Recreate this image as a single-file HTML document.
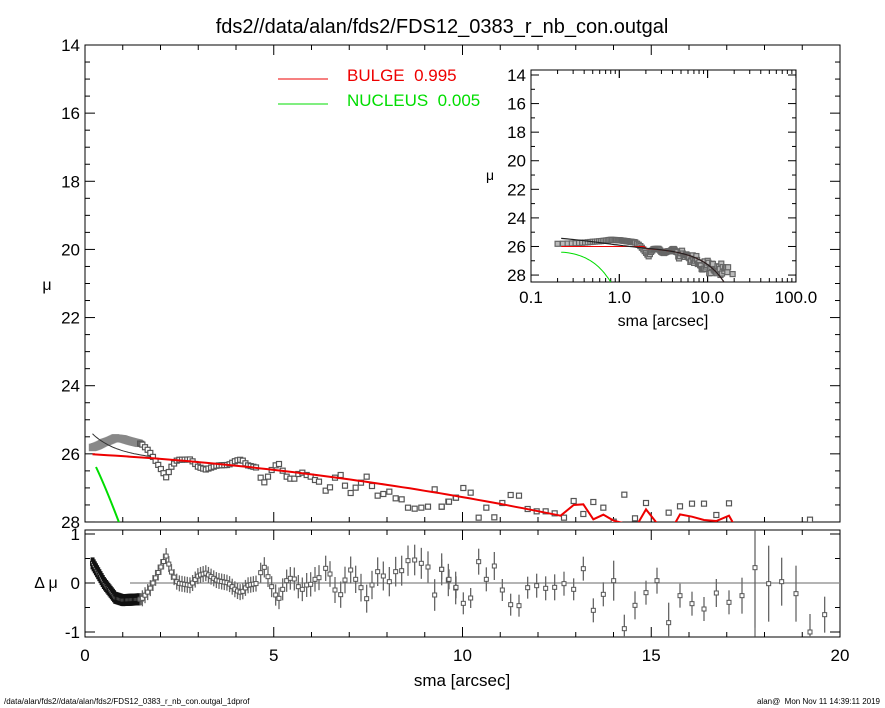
<!DOCTYPE html>
<html><head><meta charset="utf-8"><style>
body{margin:0;background:#fff;width:885px;height:708px;overflow:hidden}
svg{display:block;font-family:"Liberation Sans",sans-serif}
</style></head><body>
<svg id="s" width="885" height="708" xmlns="http://www.w3.org/2000/svg">
<text x="442" y="33" font-size="20" text-anchor="middle">fds2//data/alan/fds2/FDS12_0383_r_nb_con.outgal</text>
<text x="4" y="704" font-size="8">/data/alan/fds2//data/alan/fds2/FDS12_0383_r_nb_con.outgal_1dprof</text>
<text x="880" y="704" font-size="8" text-anchor="end">alan@&#160; Mon Nov 11 14:39:11 2019</text>
<text x="47" y="290" font-size="16" text-anchor="middle">μ</text>
<text x="46" y="588" font-size="16" text-anchor="middle">Δ μ</text>
<text x="462" y="686" font-size="17" text-anchor="middle">sma [arcsec]</text>
<line x1="278" y1="79" x2="328" y2="79" stroke="#e00" stroke-width="1"/>
<text x="347" y="81" font-size="17" fill="#e00">BULGE&#160; 0.995</text>
<line x1="278" y1="104" x2="328" y2="104" stroke="#0d0" stroke-width="1"/>
<text x="347" y="106" font-size="17" fill="#0d0">NUCLEUS&#160; 0.005</text>
<text x="663" y="326" font-size="16" text-anchor="middle">sma [arcsec]</text>
<text x="490" y="180" font-size="14" text-anchor="middle">μ</text>
</svg>
<script>
var S=document.getElementById('s'),NS='http://www.w3.org/2000/svg';
function el(t,a,txt){var e=document.createElementNS(NS,t);for(var k in a)e.setAttribute(k,a[k]);if(txt!=null)e.textContent=txt;S.appendChild(e);return e;}
function X(x){return 85+x*37.75}function Y(m){return 45+(m-14)*34.07}
function RY(r){return 583-r*49}
function red(x){return 26.0+0.061*x+0.0066*x*x}
function tot(x){return red(x)-0.6*Math.exp(-(x-0.2)/0.6)}
var d=el('defs',{});
d.innerHTML='<clipPath id="cm"><rect x="85" y="45" width="755" height="477"/></clipPath><clipPath id="ci"><rect x="531" y="70" width="265" height="212"/></clipPath><clipPath id="cr"><rect x="85" y="530" width="755" height="107"/></clipPath>';
el('rect',{x:85,y:45,width:755,height:477,fill:'none',stroke:'#000','stroke-width':1});
el('rect',{x:85,y:530,width:755,height:107,fill:'none',stroke:'#000','stroke-width':1});
for(var i=0;i<=20;i++){var x=X(i),L=i%5==0?10:5;
 el('line',{x1:x,y1:522,x2:x,y2:522-L,stroke:'#000'});el('line',{x1:x,y1:45,x2:x,y2:45+L,stroke:'#000'});
 el('line',{x1:x,y1:637,x2:x,y2:637-L,stroke:'#000'});el('line',{x1:x,y1:530,x2:x,y2:530+L,stroke:'#000'});
 if(i%5==0)el('text',{x:x,y:661,'font-size':17,'text-anchor':'middle'},i);}
for(var m=14;m<=28;m+=0.5){var y=Y(m),L=(m%2==0)?10:5;
 el('line',{x1:85,y1:y,x2:85+L,y2:y,stroke:'#000'});el('line',{x1:840,y1:y,x2:840-L,y2:y,stroke:'#000'});
 if(m%2==0)el('text',{x:80,y:y+6,'font-size':17,'text-anchor':'end'},m);}
for(var r=-1;r<=1;r+=0.5){var y=RY(r),L=(r%1==0)?10:5;
 el('line',{x1:85,y1:y,x2:85+L,y2:y,stroke:'#000'});el('line',{x1:840,y1:y,x2:840-L,y2:y,stroke:'#000'});
 if(r%1==0)el('text',{x:80,y:y+6,'font-size':17,'text-anchor':'end'},r);}
el('line',{x1:130,y1:583,x2:840,y2:583,stroke:'#888','stroke-width':1.2});
el('line',{x1:755,y1:530,x2:755,y2:637,stroke:'#444','stroke-width':1});
var K=[[0.2,0.4],[0.5,0.0],[0.8,-0.3],[1.0,-0.35],[1.5,-0.33],[1.7,-0.15],[1.9,0.15],[2.15,0.55],[2.3,0.2],[2.45,0],[2.8,-0.05],[3.0,0.15],[3.2,0.2],[3.5,0.05],[3.8,0],[4.0,-0.15],[4.15,-0.2],[4.3,-0.05],[4.6,0.0]];
function rf(x){for(var i=0;i<K.length-1;i++)if(x<=K[i+1][0]){var t=(x-K[i][0])/(K[i+1][0]-K[i][0]);return K[i][1]+t*(K[i+1][1]-K[i][1]);}return 0;}
var pts=[],res=[];
for(var x=0.2;x<4.55;x+=(x<1.5?0.03:0.07)){var r=rf(x);pts.push([X(x),Y(tot(x)+r)]);res.push([X(x),RY(r),x<1.5?6:8]);}
var M2=[[602,143],[613,157],[624,140],[635,120],[647,106],[657,102],[668,122],[680,140],[691,146],[703,146],[715,132],[727,128],[740,135],[752,140],[765,150],[777,155],[797,182],[810,172],[825,143],[842,135],[855,167],[872,189],[887,173],[903,158],[920,140],[936,168],[953,197],[970,192],[988,185],[1007,205],[1025,208],[1044,233],[1064,236],[1084,233],[1104,230],[1124,178],[1145,230],[1165,215],[1187,203]];
var R2=[428,412,440,470,495,505,478,452,445,447,470,478,465,463,448,443,415,432,480,494,450,420,448,473,506,465,425,438,455,425,422,392,390,400,411,495,418,450,474];
M2.forEach(function(p,i){pts.push([60+p[0]/3,430+p[1]/3]);res.push([60+p[0]/3,430+R2[i]/3,10+i/6]);});
var M3=[[5,110],[27,95],[48,83],[70,54],[92,68],[116,143],[139,113],[163,142],[187,99],[212,75],[237,77],[263,117],[290,124],[317,124],[344,130],[372,143],[401,93],[430,132],[460,96],[490,113],[521,155],[553,74],[585,145],[618,99],[651,170],[686,128],[720,109],[756,101],[792,101],[829,135],[867,100],[906,170],[945,170],[986,170],[1025,170],[1068,170],[1110,149],[1154,170]];
var R3=[298,328,352,400,384,275,328,288,360,404,407,353,347,355,352,341,358,296,421,373,332,476,406,368,332,458,377,401,417,369,397,377,293,341,335,371,486,434];
var EB=[10,10,11,11,10,13,12,14,11,11,11,11,12,12,13,12,11,12,12,12,20,14,14,12,13,20,12,12,12,14,12,18,60,38,24,28,18,18];
M3.forEach(function(p,i){if(p[1]<165)pts.push([440+p[0]/3,470+p[1]/3]);res.push([440+p[0]/3,470+R3[i]/3,EB[i]]);});
var gM=el('g',{'clip-path':'url(#cm)'});
pts.forEach(function(p){var r=document.createElementNS(NS,'rect');r.setAttribute('x',p[0]-2.5);r.setAttribute('y',p[1]-2.5);r.setAttribute('width',5);r.setAttribute('height',5);r.setAttribute('fill','#fff');r.setAttribute('stroke',p[0]<140?'#888':'#555');r.setAttribute('stroke-width',p[0]<140?2.5:1.2);gM.appendChild(r);});
var rp='';for(var x=0.2;x<=12.6;x+=0.2)rp+=(rp?'L':'M')+X(x).toFixed(1)+','+Y(red(x)).toFixed(1);
[[401,105],[430,103],[460,148],[490,134],[521,152],[553,160],[585,175],[618,118],[651,160],[680,180],[705,160],[720,133],[756,140],[792,150],[829,153],[867,137],[880,160]].forEach(function(p){rp+='L'+(440+p[0]/3)+','+(470+p[1]/3);});
var e=document.createElementNS(NS,'path');e.setAttribute('d',rp);e.setAttribute('fill','none');e.setAttribute('stroke','#e00');e.setAttribute('stroke-width',2);gM.appendChild(e);
var bp2='';for(var x=0.2;x<=1.8;x+=0.05)bp2+=(bp2?'L':'M')+X(x).toFixed(1)+','+Y(tot(x)).toFixed(1);
e=document.createElementNS(NS,'path');e.setAttribute('d',bp2);e.setAttribute('fill','none');e.setAttribute('stroke','#333');e.setAttribute('stroke-width',1);gM.appendChild(e);
e=document.createElementNS(NS,'path');e.setAttribute('d','M96,467 Q106,488 120,525');e.setAttribute('fill','none');e.setAttribute('stroke','#0d0');e.setAttribute('stroke-width',2);gM.appendChild(e);
var gR=el('g',{'clip-path':'url(#cr)'});
res.forEach(function(p){var h=p[2];var l=document.createElementNS(NS,'line');l.setAttribute('x1',p[0]);l.setAttribute('x2',p[0]);l.setAttribute('y1',p[1]-h);l.setAttribute('y2',p[1]+h);l.setAttribute('stroke',p[0]<140?'#111':'#666');l.setAttribute('stroke-width',p[0]<140?4:1.3);gR.appendChild(l);
 var r=document.createElementNS(NS,'rect');r.setAttribute('x',p[0]-2);r.setAttribute('y',p[1]-2);r.setAttribute('width',4);r.setAttribute('height',4);r.setAttribute('fill','#fff');r.setAttribute('stroke',p[0]<140?'#111':'#555');r.setAttribute('stroke-width',1);gR.appendChild(r);});
el('rect',{x:531,y:70,width:265,height:212,fill:'#fff',stroke:'#000'});
function IX(x){return 531+(Math.log10(x)+1)*88.3}function IY(m){return 75+(m-14)*14.29}
for(var dd=0;dd<3;dd++)for(var k=1;k<=10;k++){var x=IX(Math.pow(10,dd-1)*k),L=k==1||k==10?8:4;el('line',{x1:x,y1:282,x2:x,y2:282-L,stroke:'#000'});el('line',{x1:x,y1:70,x2:x,y2:70+L,stroke:'#000'});}
['0.1','1.0','10.0','100.0'].forEach(function(t,i){el('text',{x:531+i*88.3,y:303,'font-size':17,'text-anchor':'middle'},t);});
for(var m=14;m<=28;m+=1){var y=IY(m),L=m%2==0?8:4;el('line',{x1:531,y1:y,x2:531+L,y2:y,stroke:'#000'});el('line',{x1:796,y1:y,x2:796-L,y2:y,stroke:'#000'});if(m%2==0)el('text',{x:526,y:y+6,'font-size':17,'text-anchor':'end'},m);}
var gI=el('g',{'clip-path':'url(#ci)'});
pts.forEach(function(p){var x=(p[0]-85)/37.75,m=(p[1]-45)/34.07+14;if(x<=0)return;var c=document.createElementNS(NS,'rect');c.setAttribute('x',IX(x)-2.5);c.setAttribute('y',IY(m)-2.5);c.setAttribute('width',5);c.setAttribute('height',5);c.setAttribute('fill','#bbb');c.setAttribute('stroke','#666');c.setAttribute('stroke-width',1.2);gI.appendChild(c);});
var ip='',bp='',gp='';
for(var x=0.22;x<=20;x*=1.08){ip+=(ip?'L':'M')+IX(x).toFixed(1)+','+IY(x<2?26.0:red(x)).toFixed(1);bp+=(bp?'L':'M')+IX(x).toFixed(1)+','+IY(tot(x)).toFixed(1);}
for(var x=0.22;x<=1;x*=1.05)gp+=(gp?'L':'M')+IX(x).toFixed(1)+','+IY(26.4+2.2*Math.pow((x-0.22)/0.6,1.5)).toFixed(1);
[[ip,'#e00',1],[bp,'#222',1.2],[gp,'#0d0',1]].forEach(function(a){var e=document.createElementNS(NS,'path');e.setAttribute('d',a[0]);e.setAttribute('fill','none');e.setAttribute('stroke',a[1]);e.setAttribute('stroke-width',a[2]);gI.appendChild(e);});
</script>
</body></html>
